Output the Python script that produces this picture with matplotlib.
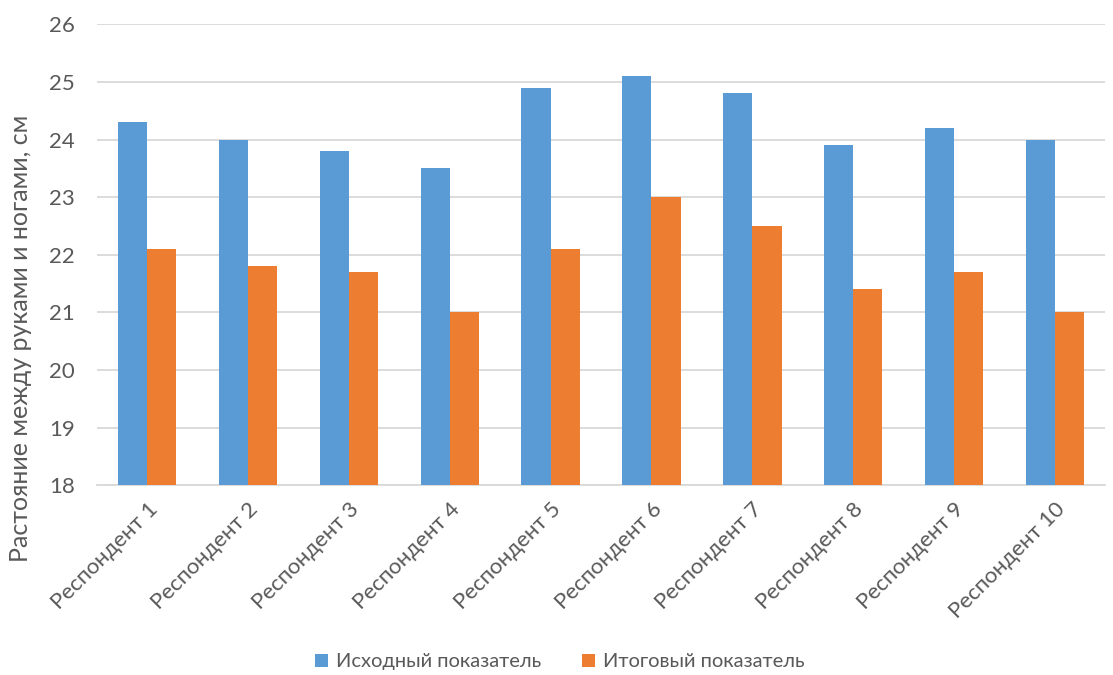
import matplotlib.pyplot as plt
import numpy as np

plt.rcParams['font.family'] = ['Lato', 'Open Sans', 'DejaVu Sans']

respondents = ['Респондент %d' % i for i in range(1, 11)]
initial = [24.3, 24.0, 23.8, 23.5, 24.9, 25.1, 24.8, 23.9, 24.2, 24.0]
final = [22.1, 21.8, 21.7, 21.0, 22.1, 23.0, 22.5, 21.4, 21.7, 21.0]

text_col = '#595959'
grid_col = '#D9D9D9'

fig = plt.figure(figsize=(11.13, 6.75), dpi=100)
ax = fig.add_axes([0.087, 0.281, 0.906, 0.683])

x = np.arange(len(respondents))
w = 0.29
ax.bar(x - w / 2, initial, w, color='#5B9BD5', label='Исходный показатель', zorder=3)
ax.bar(x + w / 2, final, w, color='#ED7D31', label='Итоговый показатель', zorder=3)

ax.set_xlim(-0.5, len(respondents) - 0.5)
ax.set_ylim(18, 26)
ax.set_yticks(range(18, 27))
ax.yaxis.grid(True, color=grid_col, linewidth=1.3, zorder=0)
for s in ['top', 'right', 'left']:
    ax.spines[s].set_visible(False)
ax.spines['bottom'].set_color(grid_col)
ax.spines['bottom'].set_linewidth(1.3)
ax.tick_params(length=0, labelsize=16, colors=text_col)
ax.tick_params(axis='y', pad=16)
ax.tick_params(axis='x', pad=10)

ax.set_xticks(x)
ax.set_xticklabels(respondents, rotation=45, ha='right', rotation_mode='anchor')

# axis title is centred on the whole chart height, not just the plot area
fig.text(0.018, 0.498, 'Растояние между руками и ногами, см', rotation=90,
         fontsize=18, color=text_col, ha='center', va='center')

fig.legend(loc='lower center', bbox_to_anchor=(0.503, -0.02), ncol=2, frameon=False,
           fontsize=14.5, handlelength=0.65, handleheight=0.65, handletextpad=0.4,
           columnspacing=2.05, labelcolor=text_col)

fig.savefig('out.png', dpi=100)
